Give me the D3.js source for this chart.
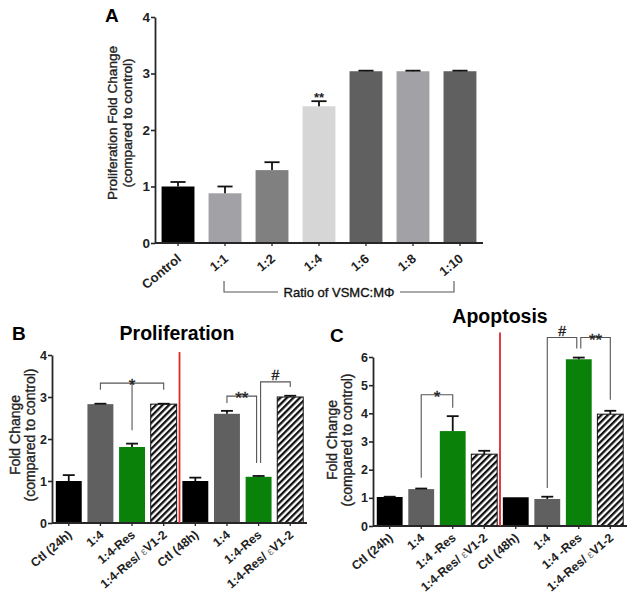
<!DOCTYPE html>
<html><head><meta charset="utf-8">
<script src="https://cdn.jsdelivr.net/npm/d3@7"></script>
<style>body{margin:0;background:#fff}svg{display:block}text{font-family:Arial,"Liberation Sans",sans-serif}
.thick{stroke:#222;stroke-width:0.35px;paint-order:stroke}</style>
</head><body>
<svg id="c" width="632" height="596"></svg>
<script>
// ---------- Panel A data ----------
const aCats = ["Control","1:1","1:2","1:4","1:6","1:8","1:10"];
const aVals = [1.0, 0.88, 1.29, 2.42, 3.04, 3.04, 3.04];
const aErr  = [0.08, 0.12, 0.14, 0.09, 0.01, 0.01, 0.01];
const aColors = ["#000000","#a2a2a6","#808080","#d6d6d6","#606060","#a2a2a6","#606060"];
const aTicks = [0,1,2,3,4];
const aSig = [{i:3, text:"**"}];

// ---------- Panel B data ----------
const bCats = ["Ctl (24h)","1:4","1:4-Res","1:4-Res/ \u03b5V1-2","Ctl (48h)","1:4","1:4-Res","1:4-Res/ \u03b5V1-2"];
const bVals = [1.0, 2.83, 1.81, 2.83, 1.0, 2.60, 1.10, 3.00];
const bErr  = [0.14, 0.01, 0.08, 0.01, 0.08, 0.07, 0.02, 0.03];
const bTicks = [0,1,2,3,4];
const bBrackets = [
  {l:1, r:3, top:3.33, lEnd:3.17, rEnd:3.17, mid:2, midEnd:2.21, text:"*"},
  {l:5, r:6, top:3.02, lEnd:2.86, rEnd:1.43, text:"**", rOff:-2},
  {l:6, r:7, top:3.36, lEnd:1.43, rEnd:3.24, text:"#", lOff:2}
];

// ---------- Panel C data ----------
const cCats = ["Ctl (24h)","1:4","1:4 -Res","1:4-Res/ \u03b5V1-2","Ctl (48h)","1:4","1:4 -Res","1:4-Res/ \u03b5V1-2"];
const cVals = [1.03, 1.31, 3.37, 2.55, 1.02, 0.96, 5.92, 3.97];
const cErr  = [0.01, 0.02, 0.53, 0.12, 0.0, 0.08, 0.06, 0.12];
const cTicks = [0,1,2,3,4,5,6];
const cBrackets = [
  {l:1, r:2, top:4.66, lEnd:1.71, rEnd:4.20, text:"*"},
  {l:5, r:6, top:6.69, lEnd:1.35, rEnd:6.30, text:"#", rOff:-2},
  {l:6, r:7, top:6.69, lEnd:6.30, rEnd:4.48, text:"**", lOff:2}
];
const groupKinds = ["ctl","mid","res","hatch","ctl","mid","res","hatch"];
const kindColor = {ctl:"#000000", mid:"#606060", res:"#0a820a", hatch:"url(#hatch)"};

const svg = d3.select("#c");
const defs = svg.append("defs");
const pat = defs.append("pattern").attr("id","hatch").attr("patternUnits","userSpaceOnUse")
  .attr("width",4.6).attr("height",4.6).attr("patternTransform","rotate(45)");
pat.append("rect").attr("width",4.6).attr("height",4.6).attr("fill","#fff");
pat.append("rect").attr("width",2.3).attr("height",4.6).attr("fill","#111");

const AX = "#262626";

function drawPanel(cfg){
  const g = svg.append("g");
  const idx = cfg.vals.map((d,i)=>i);
  const x = d3.scaleBand().domain(idx).range(cfg.xr).paddingInner(cfg.pi).paddingOuter(cfg.po);
  const y = d3.scaleLinear().domain(cfg.ydom).range(cfg.yr);
  const bw = x.bandwidth();
  g.selectAll("rect.bar").data(idx).join("rect")
    .attr("x", i=>x(i)).attr("width", bw)
    .attr("y", i=>y(cfg.vals[i])).attr("height", i=>y(0)-y(cfg.vals[i]))
    .attr("fill", i=>cfg.fill(i))
    .attr("stroke", i=>cfg.stroke ? cfg.stroke(i) : "none").attr("stroke-width",1);
  idx.forEach(i=>{
    const cx = x(i)+bw/2, e = cfg.err[i];
    if (e<=0) return;
    g.append("line").attr("x1",cx).attr("x2",cx).attr("y1",y(cfg.vals[i])).attr("y2",y(cfg.vals[i]+e))
      .attr("stroke","#111").attr("stroke-width",1.8);
    g.append("line").attr("x1",cx-bw*0.23).attr("x2",cx+bw*0.23).attr("y1",y(cfg.vals[i]+e)).attr("y2",y(cfg.vals[i]+e))
      .attr("stroke","#111").attr("stroke-width",1.8);
  });
  const ya = d3.axisLeft(y).tickValues(cfg.ticks).tickSize(4).tickSizeOuter(0).tickFormat(d3.format("d"));
  const yg = g.append("g").attr("transform",`translate(${cfg.xr[0]},0)`).call(ya);
  yg.select(".domain").attr("stroke",AX).attr("stroke-width",1.8);
  yg.selectAll(".tick line").attr("stroke",AX).attr("stroke-width",1.6);
  yg.selectAll(".tick text").attr("font-size",cfg.tickFs).attr("font-weight","bold").attr("fill","#222").attr("x",-5);
  const xa = d3.axisBottom(x).tickSize(3).tickSizeOuter(0).tickFormat("");
  const xg = g.append("g").attr("transform",`translate(0,${y(0)})`).call(xa);
  xg.select(".domain").attr("stroke",AX).attr("stroke-width",1.8).attr("d",`M${cfg.xr[0]},0H${cfg.xr[1]}`);
  xg.selectAll(".tick line").attr("stroke",AX).attr("stroke-width",1.3);
  idx.forEach(i=>{
    const cx = x(i)+bw/2;
    const t = g.append("text").attr("transform",`translate(${cx+cfg.lx},${y(0)+cfg.ly}) rotate(-40)`)
      .attr("text-anchor","end").attr("font-size",cfg.labFs).attr("font-weight","bold").attr("fill","#222");
    const s = cfg.cats[i];
    if (s.indexOf("\u03b5")>=0){
      const parts = s.split("\u03b5");
      t.append("tspan").text(parts[0]);
      t.append("tspan").text("\u03b5").attr("font-weight","normal").attr("fill","#777").attr("font-size",cfg.labFs-1);
      t.append("tspan").text(parts[1]);
    } else t.text(s);
  });
  return {x,y,bw,g};
}

// ---------- Panel A ----------
const A = drawPanel({vals:aVals, err:aErr, cats:aCats, xr:[155,483], pi:0.3, po:0.14,
  ydom:[0,4], yr:[243,17], ticks:aTicks, fill:i=>aColors[i], tickFs:13.5, labFs:13, lx:4, ly:17});
aSig.forEach(s=>{
  A.g.append("text").attr("x",A.x(s.i)+A.bw/2).attr("y",A.y(aVals[s.i]+aErr[s.i])+1)
    .attr("text-anchor","middle").attr("font-size",13).attr("font-weight","bold").attr("fill","#222").text(s.text);
});
svg.append("text").attr("x",105).attr("y",22).attr("font-size",19).attr("font-weight","bold").text("A");
svg.append("text").attr("class","thick").attr("transform","translate(117,123) rotate(-90)").attr("text-anchor","middle")
  .attr("font-size",13.6).attr("fill","#222").text("Proliferation Fold Change");
svg.append("text").attr("class","thick").attr("transform","translate(131.5,123) rotate(-90)").attr("text-anchor","middle")
  .attr("font-size",13.6).attr("fill","#222").text("(compared to control)");
{
  const xl = A.x(1)+A.bw/2 - 1, xr = A.x(6)+A.bw/2 - 6;
  const yb = 292, yt = 281;
  const g = A.g;
  g.append("path").attr("d",`M${xl},${yt}V${yb}H278`).attr("fill","none").attr("stroke","#555").attr("stroke-width",1.1);
  g.append("path").attr("d",`M400,${yb}H${xr}V${yt}`).attr("fill","none").attr("stroke","#555").attr("stroke-width",1.1);
  g.append("text").attr("class","thick").attr("x",339).attr("y",297).attr("text-anchor","middle").attr("font-size",13).attr("fill","#111")
    .text("Ratio of VSMC:M\u03a6");
}

// ---------- Panel B ----------
const B = drawPanel({vals:bVals, err:bErr, cats:bCats, xr:[52,307], pi:0.18, po:0.12,
  ydom:[0,4], yr:[523,355], ticks:bTicks, fill:i=>kindColor[groupKinds[i]],
  stroke:i=>groupKinds[i]==="hatch"?"#111":"none", tickFs:12.5, labFs:12.3, lx:4, ly:13});
// ---------- Panel C ----------
const C = drawPanel({vals:cVals, err:cErr, cats:cCats, xr:[373,627], pi:0.18, po:0.12,
  ydom:[0,6], yr:[526,357], ticks:cTicks, fill:i=>kindColor[groupKinds[i]],
  stroke:i=>groupKinds[i]==="hatch"?"#111":"none", tickFs:12.5, labFs:12.3, lx:4, ly:13});

function brackets(P, list){
  list.forEach(b=>{
    const xl = P.x(b.l)+P.bw/2 + (b.lOff||0), xr = P.x(b.r)+P.bw/2 + (b.rOff||0);
    P.g.append("path").attr("d",`M${xl},${P.y(b.lEnd)}V${P.y(b.top)}H${xr}V${P.y(b.rEnd)}`)
      .attr("fill","none").attr("stroke","#555").attr("stroke-width",1.1);
    if (b.mid!==undefined){
      const xm = P.x(b.mid)+P.bw/2;
      P.g.append("line").attr("x1",xm).attr("x2",xm).attr("y1",P.y(b.top)).attr("y2",P.y(b.midEnd))
        .attr("stroke","#555").attr("stroke-width",1.1);
    }
    const fs = b.text==="#"?14:17;
    P.g.append("text").attr("class","thick").attr("x",(xl+xr)/2).attr("y",P.y(b.top)+(b.text==="#"?-2:8))
      .attr("text-anchor","middle").attr("font-size",fs).attr("fill","#222").text(b.text);
  });
}
brackets(B, bBrackets);
brackets(C, cBrackets);

function redLine(P, topVal){
  const xm = (P.x(3)+P.bw + P.x(4))/2;
  P.g.append("line").attr("x1",xm).attr("x2",xm).attr("y1",P.y(topVal)).attr("y2",P.y(0))
    .attr("stroke","#e0262a").attr("stroke-width",1.8);
}
redLine(B, 4.07);
redLine(C, 6.87);

svg.append("text").attr("x",12).attr("y",340).attr("font-size",19).attr("font-weight","bold").text("B");
svg.append("text").attr("x",330).attr("y",342).attr("font-size",19).attr("font-weight","bold").text("C");
svg.append("text").attr("x",177).attr("y",340).attr("text-anchor","middle").attr("font-size",19.5).attr("font-weight","bold").text("Proliferation");
svg.append("text").attr("x",500).attr("y",323).attr("text-anchor","middle").attr("font-size",19.5).attr("font-weight","bold").text("Apoptosis");
function ylab(cx, cy, l1, l2){
  svg.append("text").attr("class","thick").attr("transform",`translate(${cx},${cy}) rotate(-90)`).attr("text-anchor","middle")
    .attr("font-size",14).attr("fill","#222").text(l1);
  svg.append("text").attr("class","thick").attr("transform",`translate(${cx+14.5},${cy}) rotate(-90)`).attr("text-anchor","middle")
    .attr("font-size",14).attr("fill","#222").text(l2);
}
ylab(20, 435, "Fold Change", "(compared to control)");
ylab(337, 440, "Fold Change", "(compared to control)");
</script>
</body></html>
